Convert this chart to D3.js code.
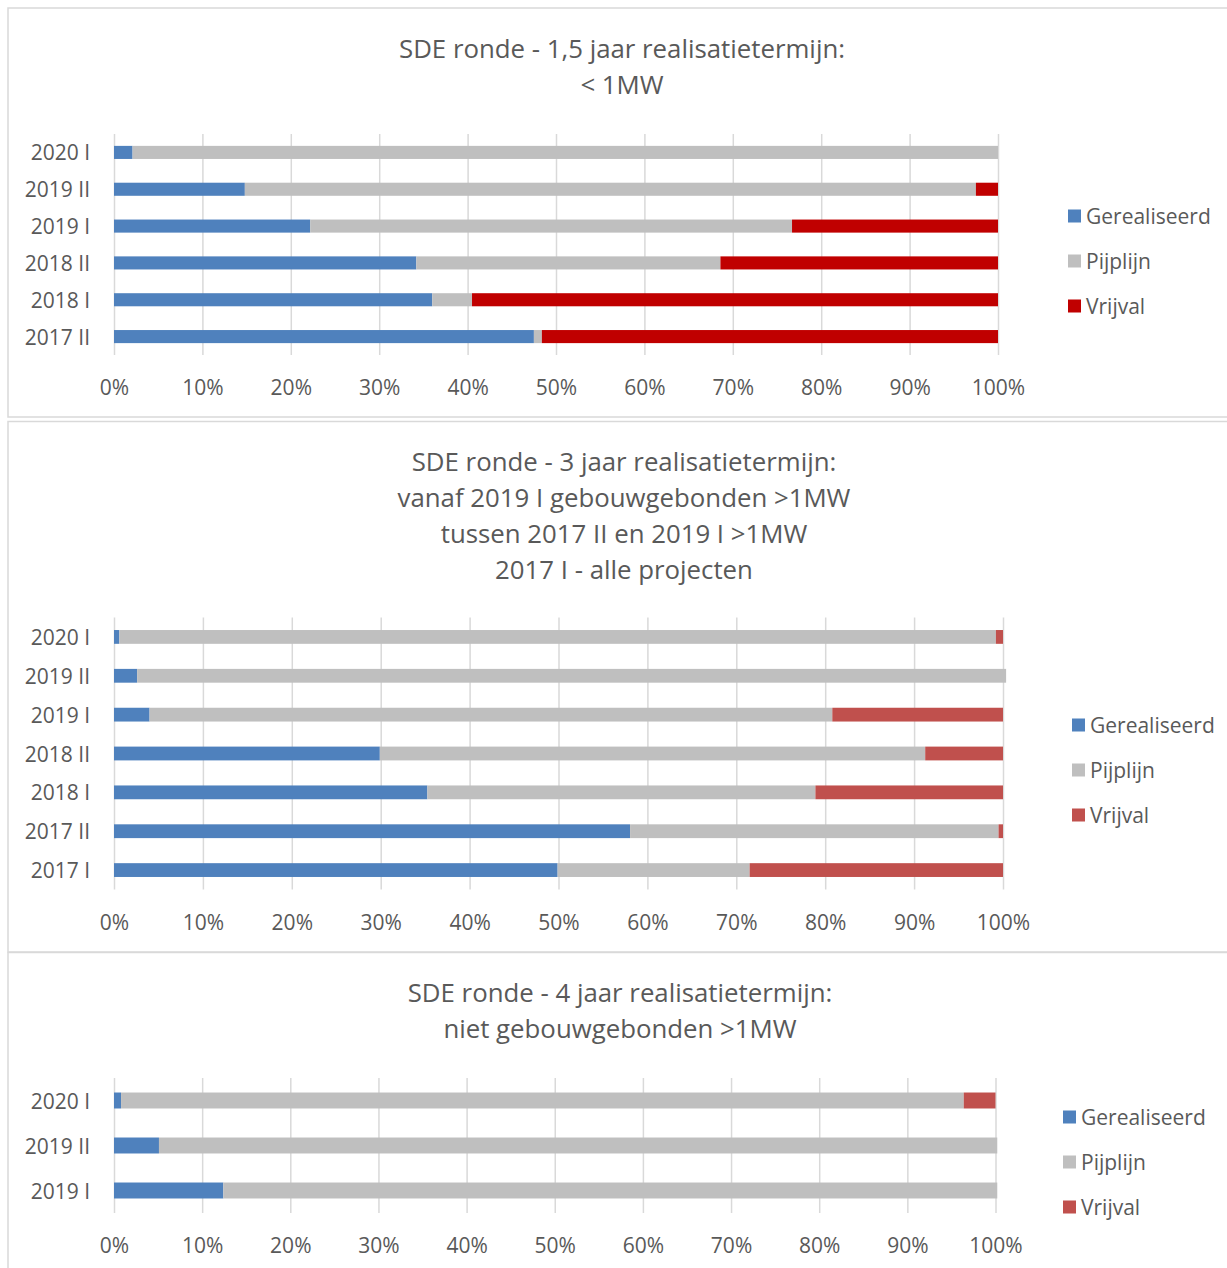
<!DOCTYPE html>
<html>
<head>
<meta charset="utf-8">
<script src="https://cdn.jsdelivr.net/npm/d3@7"></script>
<style>
  html, body { margin: 0; padding: 0; background: #fff; }
  svg { display: block; font-family: "Open Sans", "Noto Sans", sans-serif; }
</style>
</head>
<body>
<svg id="chart" width="1227" height="1268"></svg>
<script>
// ---------- data ----------
const seriesNames = ["Gerealiseerd", "Pijplijn", "Vrijval"];
const tickValues = [0, 0.1, 0.2, 0.3, 0.4, 0.5, 0.6, 0.7, 0.8, 0.9, 1.0];

const p1Title = ["SDE ronde - 1,5 jaar realisatietermijn:", "< 1MW"];
const p1Categories = ["2020 I", "2019 II", "2019 I", "2018 II", "2018 I", "2017 II"];
const p1Gerealiseerd = [0.021, 0.148, 0.222, 0.342, 0.360, 0.475];
const p1Pijplijn     = [0.979, 0.827, 0.545, 0.344, 0.045, 0.009];
const p1Vrijval      = [0.000, 0.025, 0.233, 0.314, 0.595, 0.516];

const p2Title = ["SDE ronde - 3 jaar realisatietermijn:", "vanaf 2019 I gebouwgebonden >1MW", "tussen 2017 II en 2019 I >1MW", "2017 I - alle projecten"];
const p2Categories = ["2020 I", "2019 II", "2019 I", "2018 II", "2018 I", "2017 II", "2017 I"];
const p2Gerealiseerd = [0.006, 0.026, 0.040, 0.299, 0.3525, 0.5805, 0.499];
const p2Pijplijn     = [0.986, 0.9775, 0.768, 0.6135, 0.4365, 0.4145, 0.216];
const p2Vrijval      = [0.008, 0.000, 0.192, 0.0875, 0.211, 0.005, 0.285];

const p3Title = ["SDE ronde - 4 jaar realisatietermijn:", "niet gebouwgebonden >1MW"];
const p3Categories = ["2020 I", "2019 II", "2019 I"];
const p3Gerealiseerd = [0.008, 0.051, 0.124];
const p3Pijplijn     = [0.956, 0.951, 0.878];
const p3Vrijval      = [0.036, 0.000, 0.000];

// ---------- layout / style ----------
const textColor = "#595959";
const gridColor = "#d9d9d9";
const panels = [
  { title: p1Title, cats: p1Categories, g: p1Gerealiseerd, p: p1Pijplijn, v: p1Vrijval,
    colors: ["#4f81bd", "#bfbfbf", "#c00000"],
    frame: [8, 8, 1240, 417], titleX: 622, titleY: 48,
    plot: { x0: 114, x1: 998, y0: 134, y1: 355 }, legendX: 1068, legendY: [216, 261, 306] },
  { title: p2Title, cats: p2Categories, g: p2Gerealiseerd, p: p2Pijplijn, v: p2Vrijval,
    colors: ["#4f81bd", "#bfbfbf", "#c0504d"],
    frame: [8, 421.5, 1240, 952], titleX: 624, titleY: 461,
    plot: { x0: 114, x1: 1003, y0: 617.5, y1: 889.5 }, legendX: 1072, legendY: [725, 770, 815] },
  { title: p3Title, cats: p3Categories, g: p3Gerealiseerd, p: p3Pijplijn, v: p3Vrijval,
    colors: ["#4f81bd", "#bfbfbf", "#c0504d"],
    frame: [8, 952.5, 1240, 1290], titleX: 620, titleY: 992,
    plot: { x0: 114, x1: 995.5, y0: 1078, y1: 1213 }, legendX: 1063, legendY: [1117, 1162, 1207] }
];

const svg = d3.select("#chart");
svg.append("rect").attr("width", 1227).attr("height", 1268).attr("fill", "#fff");

panels.forEach(pn => {
  const gPanel = svg.append("g");
  const [fx0, fy0, fx1, fy1] = pn.frame;
  gPanel.append("rect")
    .attr("x", fx0).attr("y", fy0).attr("width", fx1 - fx0).attr("height", fy1 - fy0)
    .attr("fill", "#fff").attr("stroke", gridColor).attr("stroke-width", 1.5);

  // title
  gPanel.append("g").selectAll("text").data(pn.title).join("text")
    .attr("x", pn.titleX).attr("y", (d, i) => pn.titleY + i * 36)
    .attr("text-anchor", "middle").attr("dominant-baseline", "central")
    .attr("fill", textColor).style("font-size", "25.8px")
    .text(d => d);

  const x = d3.scaleLinear().domain([0, 1]).range([pn.plot.x0, pn.plot.x1]);
  const y = d3.scaleBand().domain(pn.cats).range([pn.plot.y0, pn.plot.y1]).paddingInner(0.645).paddingOuter(0.3225);

  // gridlines
  const grid = gPanel.append("g")
    .attr("transform", `translate(0,${pn.plot.y1})`)
    .call(d3.axisBottom(x).tickValues(tickValues).tickSize(-(pn.plot.y1 - pn.plot.y0)).tickFormat(""));
  grid.select(".domain").remove();
  grid.selectAll("line").attr("stroke", gridColor).attr("stroke-width", 1.5);

  // stacked bars
  const rows = pn.cats.map((c, i) => ({ cat: c, Gerealiseerd: pn.g[i], Pijplijn: pn.p[i], Vrijval: pn.v[i] }));
  const stacked = d3.stack().keys(seriesNames)(rows);
  gPanel.append("g").selectAll("g").data(stacked).join("g")
    .attr("fill", (d, i) => pn.colors[i])
    .selectAll("rect").data(d => d).join("rect")
    .attr("x", d => x(d[0]))
    .attr("width", d => Math.max(0, x(d[1]) - x(d[0])))
    .attr("y", d => y(d.data.cat))
    .attr("height", y.bandwidth());

  // x tick labels
  const xa = gPanel.append("g")
    .attr("transform", `translate(0,${pn.plot.y1})`)
    .call(d3.axisBottom(x).tickValues(tickValues).tickSize(0).tickPadding(0).tickFormat(d3.format(".0%")));
  xa.select(".domain").remove();
  xa.selectAll("text").attr("y", 32).attr("dy", null).attr("dominant-baseline", "central")
    .attr("fill", textColor).style("font-size", "21px").style("font-family", "'Open Sans', sans-serif");

  // y category labels
  const ya = gPanel.append("g")
    .attr("transform", `translate(${pn.plot.x0},0)`)
    .call(d3.axisLeft(y).tickSize(0).tickPadding(24));
  ya.select(".domain").remove();
  ya.selectAll("text").attr("dy", null).attr("dominant-baseline", "central")
    .attr("fill", textColor).style("font-size", "21px").style("font-family", "'Open Sans', sans-serif");

  // legend
  const lg = gPanel.append("g").selectAll("g").data(seriesNames).join("g")
    .attr("transform", (d, i) => `translate(${pn.legendX},${pn.legendY[i]})`);
  lg.append("rect").attr("x", 0).attr("y", -6.5).attr("width", 13).attr("height", 13)
    .attr("fill", (d, i) => pn.colors[i]);
  lg.append("text").attr("x", 18).attr("y", 0).attr("dominant-baseline", "central")
    .attr("fill", textColor).style("font-size", "21px").text(d => d);
});
</script>
</body>
</html>
